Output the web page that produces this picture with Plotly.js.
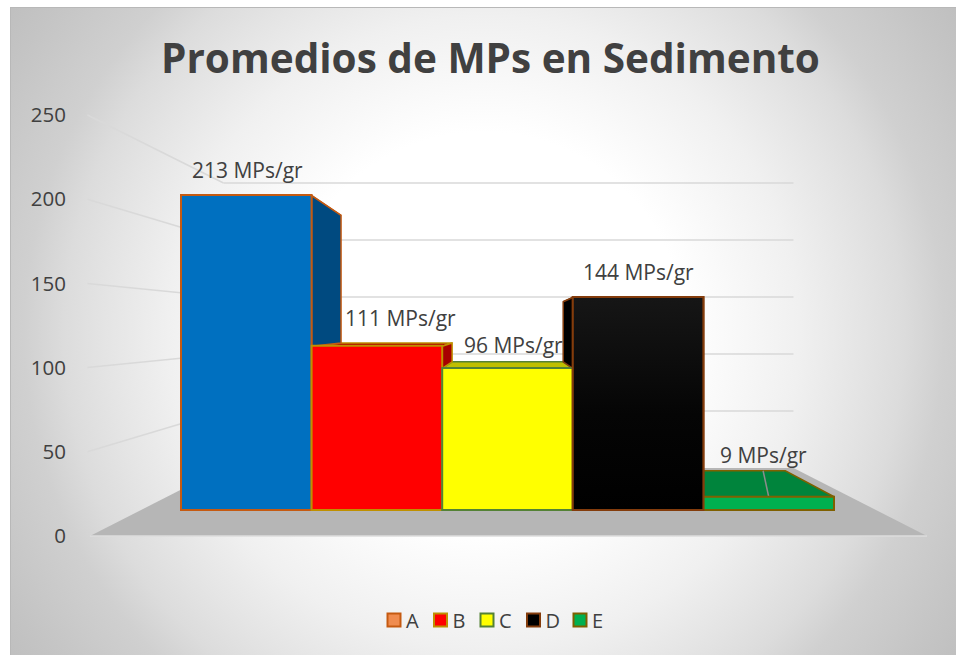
<!DOCTYPE html>
<html><head><meta charset="utf-8">
<script src="https://cdn.plot.ly/plotly-3.0.1.min.js"></script>
<style>
html,body{margin:0;padding:0;background:#fff;width:956px;height:655px;overflow:hidden}
#bg{position:absolute;left:10px;top:7px;width:946px;height:648px;box-sizing:border-box;border-left:1px solid #b8b8b8;border-top:1px solid #b8b8b8;
background:radial-gradient(circle 620px at 473px 324px,#ffffff 0,#ffffff 200px,#f0f0f0 316px,#e4e4e4 380px,#dcdcdc 420px,#d0d0d0 460px,#c4c4c4 540px,#bcbcbc 600px)}
#plot{position:absolute;left:0;top:0;width:956px;height:655px}
#plot .legend .scrollbox{clip-path:none !important}
#plot .legend .legendtext{transform:translate(-8px,0)}
</style></head><body>
<div id="bg"></div><div id="plot"></div>
<script>
const categories=['A','B','C','D','E'];
const values=[213,111,96,144,9];
const unit=' MPs/gr';
const tickVals=[0,50,100,150,200,250];
const frontColors=['#0070c0','#ff0000','#ffff00','#000000','#00b050'];
const sideColors=['#004a80','#a80000','#a8a800','#000000','#00843c'];
const topColors=['#004a80','#b00000','#bfbf00','#000000','#00843c'];
const borderColors=['#c55a11','#bf9000','#548235','#843c0c','#7f6000'];
const legendColors=['#f08c4f','#ff0000','#ffff00','#000000','#00b050'];

// Scene calibration (pixels)
const W=956,H=655,ML=70;
const BL=181,BW=130.6,CX=508.5;
const FLOOR0=536,FLOOR1=468,S0=1.684,S1=1.14,HW0=418.5,HW1=285;
const TF=(536-510)/68, TB=0.794;
const toU=p=>(p-BL)/BW-0.5;
const hw=t=>HW0+(HW1-HW0)*t;
const base=t=>FLOOR0+(FLOOR1-FLOOR0)*t;
const scale=t=>S0+(S1-S0)*t;
// Project bar-edge coordinate u, value v at depth t onto the tick plane axis
const px=(u,t)=>{const p=BL+(u+0.5)*BW;return toU(CX+(p-CX)*hw(t)/hw(TF));};
const py=(v,t)=>(FLOOR0-(base(t)-scale(t)*v))/S0;
const wallU=(side,t)=>toU(CX+side*hw(t));

const traces=[];
const poly=(xs,ys,fill,line,lw)=>({type:'scatter',mode:'lines',x:xs,y:ys,fill:'toself',fillcolor:fill,
  line:{color:line,width:lw},showlegend:false,hoverinfo:'skip',xaxis:'x',yaxis:'y'});
const seg=(xs,ys,c,w)=>({type:'scatter',mode:'lines',x:xs,y:ys,line:{color:c,width:w},showlegend:false,hoverinfo:'skip',xaxis:'x',yaxis:'y'});

// floor
traces.push(poly([wallU(-1,0),wallU(1,0),wallU(1,1),wallU(-1,1),wallU(-1,0)],[py(0,0),py(0,0),py(0,1),py(0,1),py(0,0)],'#b6b6b6','rgba(0,0,0,0)',0));
traces.push(seg([wallU(-1,0),wallU(1,0)],[py(0,0),py(0,0)],'#dcdcdc',1.5));
// wall and side gridlines
tickVals.filter(v=>v>0).forEach(v=>{
  traces.push(seg([wallU(-1,1),wallU(1,1)],[py(v,1),py(v,1)],'#d9d9d9',1.5));
  traces.push(seg([wallU(-1,0)-0.02,wallU(-1,1)],[py(v,0),py(v,1)],'#d9d9d9',1.5));
});
// top faces
[4,2,1,3,0].forEach(i=>{
  const v=values[i],a=i-0.5,b=i+0.5;
  traces.push(poly([px(a,TF),px(b,TF),px(b,TB),px(a,TB),px(a,TF)],[py(v,TF),py(v,TF),py(v,TB),py(v,TB),py(v,TF)],topColors[i],borderColors[i],1.5));
});
// seam on the E top face
const e=4;
traces.push(seg([px(e,TF),px(e+0.3,TB)],[py(values[e],TF),py(values[e],TB)],'#8c8c8c',1.5));
// side faces
values.forEach((v,i)=>{
  [[i+1,i+0.5],[i-1,i-0.5]].forEach(([n,edge])=>{
    if(n<0||n>=values.length||values[n]>=v) return;
    const w=values[n];
    traces.push(poly([px(edge,TF),px(edge,TB),px(edge,TB),px(edge,TF),px(edge,TF)],[py(v,TF),py(v,TB),py(w,TB),py(w,TF),py(v,TF)],sideColors[i],borderColors[i],1.5));
  });
});
// front faces: real bars
traces.push({type:'bar',x:categories.map((_,i)=>i),y:values,width:1,xaxis:'x',yaxis:'y2',showlegend:false,
  customdata:categories,hovertemplate:'%{customdata}: %{y}<extra></extra>',
  marker:{color:frontColors,line:{color:borderColors,width:2}}});
// sheen on the D bar
const d=3;
traces.push({type:'scatter',mode:'lines',x:[d-0.5,d+0.5,d+0.5,d-0.5,d-0.5],y:[0,0,values[d],values[d],0],xaxis:'x',yaxis:'y2',
  fill:'toself',fillgradient:{type:'vertical',colorscale:[[0,'#000000'],[0.45,'#050505'],[1,'#161616']]},
  line:{color:borderColors[d],width:2},showlegend:false,hoverinfo:'skip'});
// legend entries
categories.forEach((c,i)=>traces.push({type:'scatter',mode:'markers',x:[null],y:[null],name:c,xaxis:'x',yaxis:'y',
  marker:{symbol:'square',size:13,color:legendColors[i],line:{color:borderColors[i],width:2}}}));

const FONT='"Open Sans", sans-serif';
const labelOffsets=[[1,25],[24,28],[6,23],[0,25],[-5,42]];
const annotations=values.map((v,i)=>({x:i,y:v,xref:'x',yref:'y2',text:v+unit,showarrow:false,
  xshift:labelOffsets[i][0],yshift:labelOffsets[i][1],xanchor:'center',yanchor:'middle',
  font:{family:FONT,size:21,color:'#404040'}}));

const layout={width:W,height:H,margin:{l:ML,r:0,t:0,b:0,pad:0},autosize:false,
  paper_bgcolor:'rgba(0,0,0,0)',plot_bgcolor:'rgba(0,0,0,0)',barmode:'overlay',
  title:{text:'Promedios de MPs en Sedimento',x:490.5/W,xref:'container',xanchor:'center',y:1-59/H,yref:'container',yanchor:'middle',
    font:{family:FONT,size:40.5,color:'#404040',weight:700}},
  xaxis:{range:[toU(ML),toU(W)],visible:false,fixedrange:true},
  yaxis:{range:[(FLOOR0-H)/S0,FLOOR0/S0],tickmode:'array',tickvals:tickVals,ticktext:tickVals.map(String),showgrid:false,zeroline:false,showline:false,ticks:'',
    ticklabelstandoff:3,tickfont:{family:FONT,size:20.5,color:'#404040'},fixedrange:true},
  yaxis2:{range:[(510-H)/1.479,510/1.479],overlaying:'y',visible:false,fixedrange:true},
  legend:{orientation:'h',x:(490.5-ML)/(W-ML),xref:'paper',xanchor:'center',y:1-620/H,yref:'paper',yanchor:'middle',
    font:{family:FONT,size:20,color:'#404040'},itemsizing:'trace',entrywidth:1.5,entrywidthmode:'pixels',bgcolor:'rgba(0,0,0,0)'},
  annotations:annotations,showlegend:true};
Plotly.newPlot('plot',traces,layout,{displayModeBar:false,staticPlot:true});
</script></body></html>
